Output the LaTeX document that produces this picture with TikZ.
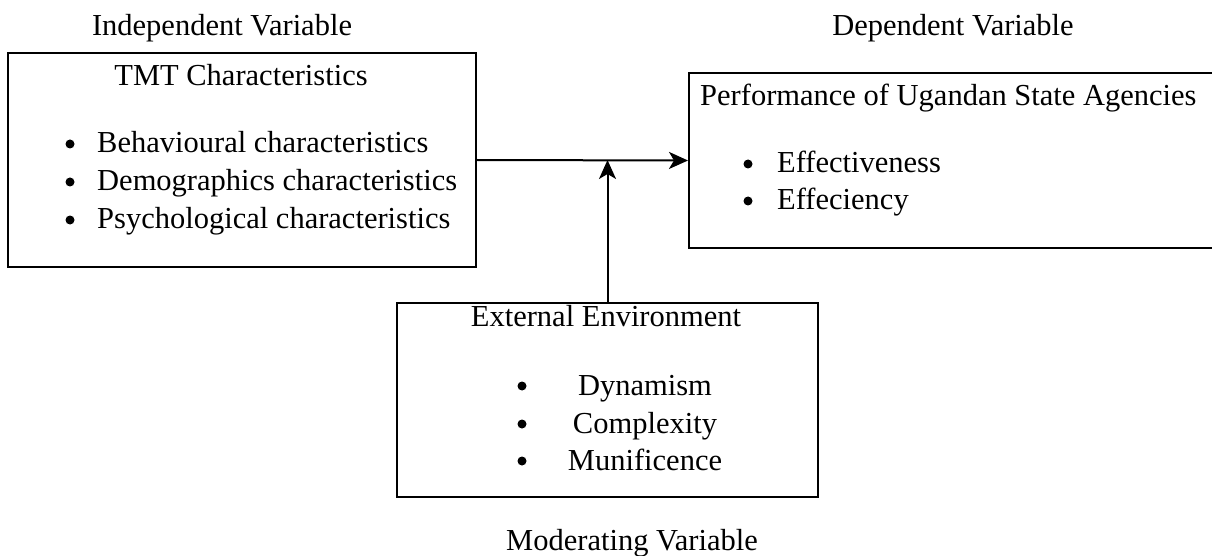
\documentclass[tikz,border=0pt]{standalone}
\usepackage{fontspec}
\setmainfont{Liberation Serif}
\usetikzlibrary{arrows.meta}
\begin{document}
\begin{tikzpicture}[x=1pt,y=-1pt,
  boxst/.style={draw=black, line width=2pt, inner sep=0pt},
  txt/.style={anchor=base west, inner sep=0pt, font=\fontsize{30.5}{36}\selectfont},
  ctxt/.style={anchor=base, inner sep=0pt, font=\fontsize{30.5}{36}\selectfont},
  dot/.style={circle, fill=black, inner sep=0pt, minimum size=9pt},
  arr/.style={line width=2pt, -{Stealth[length=19pt,width=17pt,inset=5pt]}}]
\useasboundingbox (0,0) rectangle (1212,556);
% boxes
\node[boxst, minimum width=468pt, minimum height=214pt] (tmt) at (242,160) {};
\node[boxst, minimum width=527pt, minimum height=175pt] (perf) at (952.5,160.5) {};
\node[boxst, minimum width=421pt, minimum height=194pt] (env) at (607.5,400) {};
% heading labels
\node[ctxt] (iv) at (222,36) {Independent Variable};
\node[ctxt] (dv) at (953,36) {Dependent Variable};
\node[ctxt] (mv) at (632,550) {Moderating Variable};
% box 1 text
\node[ctxt] (t1) at (241,86) {TMT Characteristics};
\node[dot] (b1a) at (70,144) {};
\node[dot] (b1b) at (70,182) {};
\node[dot] (b1c) at (70,220) {};
\node[txt] (i1a) at (97,153) {Behavioural characteristics};
\node[txt] (i1b) at (97,191) {Demographics characteristics};
\node[txt] (i1c) at (97,229) {Psychological characteristics};
% box 2 text
\node[txt] (t2) at (700,106) {Performance of Ugandan State Agencies};
\node[dot] (b2a) at (748,164) {};
\node[dot] (b2b) at (748,201) {};
\node[txt] (i2a) at (777,173) {Effectiveness};
\node[txt] (i2b) at (777,210) {Effeciency};
% box 3 text
\node[ctxt] (t3) at (606,326) {External Environment};
\node[dot] (b3a) at (522,386) {};
\node[dot] (b3b) at (522,424) {};
\node[dot] (b3c) at (522,461) {};
\node[ctxt] (i3a) at (645,395) {Dynamism};
\node[ctxt] (i3b) at (645,433) {Complexity};
\node[ctxt] (i3c) at (645,470) {Munificence};
% connectors
\coordinate (meet) at (env.north |- tmt.east);
\draw[arr] (tmt.east) -- (perf.west);
\draw[arr] (env.north) -- (meet);
\end{tikzpicture}
\end{document}
